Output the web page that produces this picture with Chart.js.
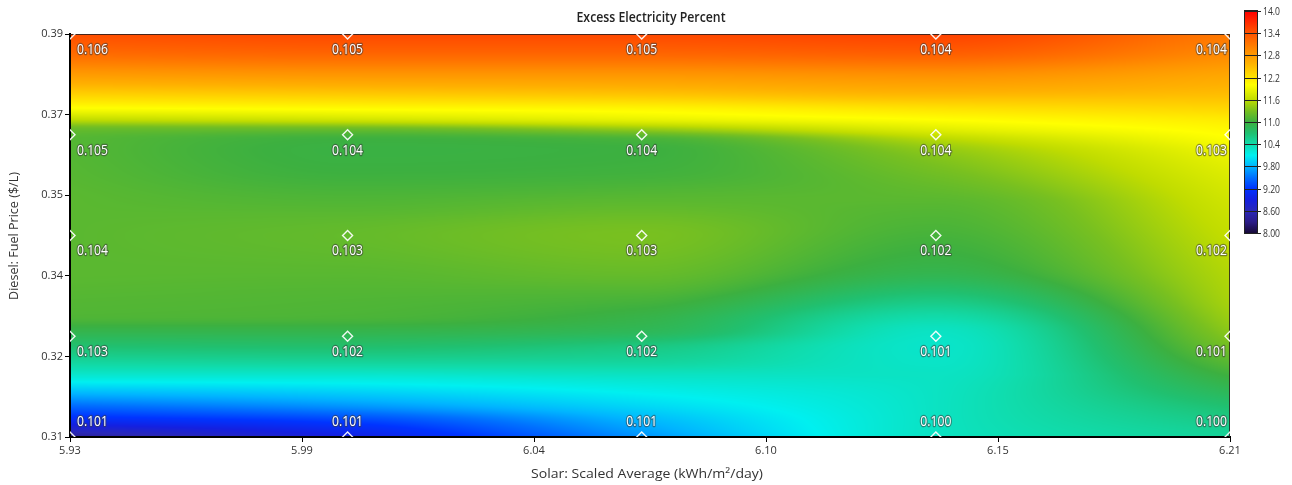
<!DOCTYPE html>
<html><head><meta charset="utf-8">
<script src="https://cdn.jsdelivr.net/npm/chart.js@4.4.0/dist/chart.umd.min.js"></script>
<style>html,body{margin:0;padding:0;background:#fff;overflow:hidden}#wrap{width:1292px;height:485px}</style>
</head><body><div id="wrap"><canvas id="c" width="1292" height="485"></canvas></div>
<script>
// ---- data ----
const solarValues = [5.93, 5.997, 6.068, 6.139, 6.21];
const fuelPrices = [0.31, 0.33, 0.35, 0.37, 0.39];
// labels at each grid point, rows follow fuelPrices (bottom -> top)
const labelsAt031 = ['0.101','0.101','0.101','0.100','0.100'];
const labelsAt033 = ['0.103','0.102','0.102','0.101','0.101'];
const labelsAt035 = ['0.104','0.103','0.103','0.102','0.102'];
const labelsAt037 = ['0.105','0.104','0.104','0.104','0.103'];
const labelsAt039 = ['0.106','0.105','0.105','0.104','0.104'];
const xTickLabels = ['5.93','5.99','6.04','6.10','6.15','6.21'];
const yTickLabels = ['0.31','0.32','0.34','0.35','0.37','0.39'];
const colorbarTicks = ['14.0','13.4','12.8','12.2','11.6','11.0','10.4','9.80','9.20','8.60','8.00'];
// excess electricity percent field, sampled at these fuel prices (top -> bottom)
const fieldFuel = [0.39,0.386,0.382,0.378,0.375,0.373,0.371,0.369,0.367,0.363,0.357,0.350,0.343,0.337,0.334,0.331,0.328,0.325,0.322,0.319,0.316,0.3135,0.311,0.31];
const excessSolar593 = [13.45,13.2,12.8,12.35,11.95,11.6,11.2,11.12,11.12,11.13,11.15,11.15,11.15,11.12,11.1,10.92,10.7,10.48,10.22,9.85,9.45,9.1,8.6,8.4];
const excessSolar600 = [13.5,13.25,12.85,12.4,12.0,11.7,11.2,11.0,10.98,11.0,11.1,11.2,11.15,11.1,11.08,10.92,10.72,10.5,10.22,9.95,9.65,9.3,9.0,8.9];
const excessSolar607 = [13.5,13.25,12.85,12.45,12.05,11.85,11.4,11.05,11.0,11.02,11.15,11.3,11.22,11.05,10.95,10.85,10.62,10.48,10.28,10.12,9.97,9.82,9.7,9.65];
const excessSolar614 = [13.55,13.3,12.9,12.55,12.2,12.0,11.8,11.55,11.4,11.28,11.15,11.05,10.92,10.6,10.42,10.3,10.27,10.28,10.3,10.3,10.3,10.3,10.3,10.3];
const excessSolar621 = [13.1,12.95,12.7,12.5,12.3,12.15,12.05,11.98,11.9,11.8,11.7,11.62,11.55,11.5,11.45,11.38,11.28,11.15,11.0,10.85,10.7,10.6,10.52,10.5];
const colorMin = 8, colorMax = 14;

// ---- colour map ----
const cmapStops = [
 [8.0,'#180a38'],[8.3,'#2c1c88'],[8.6,'#2a28b8'],[8.9,'#1420e0'],[9.2,'#0034ff'],[9.5,'#0070ff'],
 [9.8,'#00b4ff'],[10.1,'#00f0f0'],[10.4,'#10dcac'],[10.7,'#20c070'],[11.0,'#3cb040'],[11.3,'#78c020'],
 [11.6,'#c0dc00'],[12.0,'#ffff00'],[12.3,'#ffd800'],[12.6,'#ffb000'],[12.9,'#ff9000'],[13.2,'#ff6c00'],
 [13.5,'#ff4800'],[14.0,'#ff0000']];
function hex(h){return [parseInt(h.substr(1,2),16),parseInt(h.substr(3,2),16),parseInt(h.substr(5,2),16)];}
const stopsRGB = cmapStops.map(s=>[s[0],hex(s[1])]);
function colorOf(v){
  if(v<=stopsRGB[0][0]) return stopsRGB[0][1];
  for(let i=0;i<stopsRGB.length-1;i++){
    const a=stopsRGB[i],b=stopsRGB[i+1];
    if(v<=b[0]){const t=(v-a[0])/(b[0]-a[0]);return [0,1,2].map(k=>a[1][k]+(b[1][k]-a[1][k])*t);}
  }
  return stopsRGB[stopsRGB.length-1][1];
}
// monotone cubic interpolation (Fritsch-Carlson)
function monotone(xs, ys){
  const n=xs.length,h=[],d=[],m=new Array(n);
  for(let i=0;i<n-1;i++){h[i]=xs[i+1]-xs[i];d[i]=(ys[i+1]-ys[i])/h[i];}
  m[0]=d[0];m[n-1]=d[n-2];
  for(let i=1;i<n-1;i++){
    if(d[i-1]*d[i]<=0) m[i]=0;
    else{const w1=2*h[i]+h[i-1],w2=h[i]+2*h[i-1];m[i]=(w1+w2)/(w1/d[i-1]+w2/d[i]);}
  }
  return function(x){
    let i=0; if(x<=xs[0]) i=0; else if(x>=xs[n-1]) i=n-2; else {while(i<n-2&&x>xs[i+1]) i++;}
    const t=Math.min(1,Math.max(0,(x-xs[i])/h[i])),t2=t*t,t3=t2*t;
    return (2*t3-3*t2+1)*ys[i]+(t3-2*t2+t)*h[i]*m[i]+(-2*t3+3*t2)*ys[i+1]+(t3-t2)*h[i]*m[i+1];
  };
}
const fuelAsc = fieldFuel.slice().reverse();
const columnFns = [excessSolar593,excessSolar600,excessSolar607,excessSolar614,excessSolar621]
  .map(col=>monotone(fuelAsc,col.slice().reverse()));

const heatmapPlugin = {
  id:'heatmap',
  beforeDraw(chart){
    const {ctx,chartArea:a,scales:{x,y}}=chart;
    const W=Math.round(a.right-a.left),H=Math.round(a.bottom-a.top);
    const off=document.createElement('canvas');off.width=W;off.height=H;
    const octx=off.getContext('2d');const img=octx.createImageData(W,H);
    const xv=[];for(let i=0;i<W;i++) xv.push(x.getValueForPixel(a.left+i+0.5));
    for(let j=0;j<H;j++){
      const fv=y.getValueForPixel(a.top+j+0.5);
      const colVals=columnFns.map(f=>f(fv));
      const rowFn=monotone(solarValues,colVals);
      for(let i=0;i<W;i++){
        const c=colorOf(rowFn(xv[i]));const p=(j*W+i)*4;
        img.data[p]=c[0];img.data[p+1]=c[1];img.data[p+2]=c[2];img.data[p+3]=255;
      }
    }
    octx.putImageData(img,0,0);
    ctx.drawImage(off,a.left,a.top);
  },
  beforeDatasetsDraw(chart){
    const {ctx,chartArea:a}=chart;
    ctx.save();ctx.strokeStyle='rgba(40,30,30,0.85)';ctx.lineWidth=1;
    ctx.beginPath();ctx.moveTo(a.left,a.top+0.5);ctx.lineTo(a.right-0.5,a.top+0.5);ctx.lineTo(a.right-0.5,a.bottom);ctx.stroke();
    ctx.restore();
  },
  afterDatasetsDraw(chart){
    const {ctx,chartArea:a}=chart;
    const meta=chart.getDatasetMeta(0);
    const rows=[labelsAt031,labelsAt033,labelsAt035,labelsAt037,labelsAt039];
    ctx.save();
    ctx.font='14px "Open Sans"';
    const sx=31/ctx.measureText('0.103').width;
    ctx.textBaseline='middle';ctx.lineJoin='round';
    meta.data.forEach((pt,k)=>{
      const d=chart.data.datasets[0].data[k];
      const txt=rows[d.r][d.c];
      const w=ctx.measureText(txt).width*sx;
      let cx=pt.x; if(d.c===0) cx=pt.x+7+w/2; else if(d.c===solarValues.length-1) cx=pt.x-3-w/2;
      const cy=d.r===0?pt.y-15:pt.y+16;
      ctx.save();ctx.translate(cx,cy);ctx.scale(sx,1);ctx.textAlign='center';
      ctx.strokeStyle='rgba(60,60,60,0.55)';ctx.lineWidth=2.5;ctx.strokeText(txt,0,0);
      ctx.fillStyle='#ffffff';ctx.fillText(txt,0,0);ctx.restore();
    });
    ctx.restore();
  },
  afterDraw(chart){
    const {ctx,chartArea:a}=chart;
    function scaledText(txt,font,cx,cy,target,rot,color){
      ctx.save();ctx.font=font;const w=ctx.measureText(txt).width;
      ctx.translate(cx,cy);if(rot) ctx.rotate(rot);ctx.scale(target/w,1);
      ctx.fillStyle=color;ctx.textAlign='center';ctx.textBaseline='middle';ctx.fillText(txt,0,0);ctx.restore();
    }
    scaledText('Excess Electricity Percent','600 14px "Open Sans"',651,18,149,0,'#222');
    scaledText('Solar: Scaled Average (kWh/m²/day)','13px "Open Sans"',647,474,232,0,'#333');
    scaledText('Diesel: Fuel Price ($/L)','13px "Open Sans"',14,236,128,-Math.PI/2,'#333');
    // colour bar
    const bx=1245,bw=12,bt=11,bb=233;
    for(let yy=bt;yy<bb;yy++){
      const v=colorMax-(yy+0.5-bt)/(bb-bt)*(colorMax-colorMin);
      const c=colorOf(v);ctx.fillStyle=`rgb(${c[0]|0},${c[1]|0},${c[2]|0})`;ctx.fillRect(bx,yy,bw,1);
    }
    ctx.strokeStyle='#222';ctx.lineWidth=1;ctx.strokeRect(bx-0.5,bt-0.5,bw+1,bb-bt+1);
    ctx.font='11px "Open Sans"';
    const csx=17/ctx.measureText('13.4').width;
    colorbarTicks.forEach((t,i)=>{
      const yy=Math.round(bt+i*(bb-bt)/(colorbarTicks.length-1))+0.5;
      ctx.beginPath();ctx.moveTo(bx-0.5,yy);ctx.lineTo(bx+bw+4,yy);ctx.strokeStyle='#222';ctx.stroke();
      ctx.save();ctx.translate(bx+bw+6,yy);ctx.scale(csx,1);ctx.fillStyle='#333';ctx.textAlign='left';ctx.textBaseline='middle';ctx.fillText(t,0,0);ctx.restore();
    });
  }
};

const gridPoints=[];
fuelPrices.forEach((f,r)=>solarValues.forEach((s,c)=>gridPoints.push({x:s,y:f,r,c})));
const xMin=solarValues[0],xMax=solarValues[solarValues.length-1];
const yMin=fuelPrices[0],yMax=fuelPrices[fuelPrices.length-1];

new Chart(document.getElementById('c'),{
  type:'scatter',
  data:{datasets:[{data:gridPoints,pointStyle:'rectRot',pointRadius:5,pointHoverRadius:5,
    backgroundColor:'rgba(0,0,0,0)',borderColor:'rgba(255,255,255,0.92)',borderWidth:1.4,clip:0}]},
  options:{
    responsive:false,animation:false,devicePixelRatio:1,
    layout:{padding:{left:0,top:34,right:62,bottom:0}},
    plugins:{legend:{display:false},tooltip:{enabled:false},title:{display:false}},
    scales:{
      x:{type:'linear',min:xMin,max:xMax,
        afterFit(s){s.height=48;},
        afterBuildTicks(s){s.ticks=xTickLabels.map((_,i)=>({value:xMin+i*(xMax-xMin)/(xTickLabels.length-1)}));},
        ticks:{callback:(v,i)=>xTickLabels[i],font:{family:'"Open Sans"',size:11},color:'#333',padding:2,maxRotation:0,autoSkip:false},
        grid:{drawOnChartArea:false,drawTicks:true,tickLength:5,color:'#000'},
        border:{display:true,color:'#000',width:2}},
      y:{type:'linear',min:yMin,max:yMax,
        afterFit(s){s.width=70;},
        afterBuildTicks(s){s.ticks=yTickLabels.map((_,i)=>({value:yMin+i*(yMax-yMin)/(yTickLabels.length-1)}));},
        ticks:{callback:(v,i)=>yTickLabels[i],font:{family:'"Open Sans"',size:11},color:'#333',padding:2,autoSkip:false},
        grid:{drawOnChartArea:false,drawTicks:true,tickLength:5,color:'#000'},
        border:{display:true,color:'#000',width:2}}
    }
  },
  plugins:[heatmapPlugin]
});
</script></body></html>
